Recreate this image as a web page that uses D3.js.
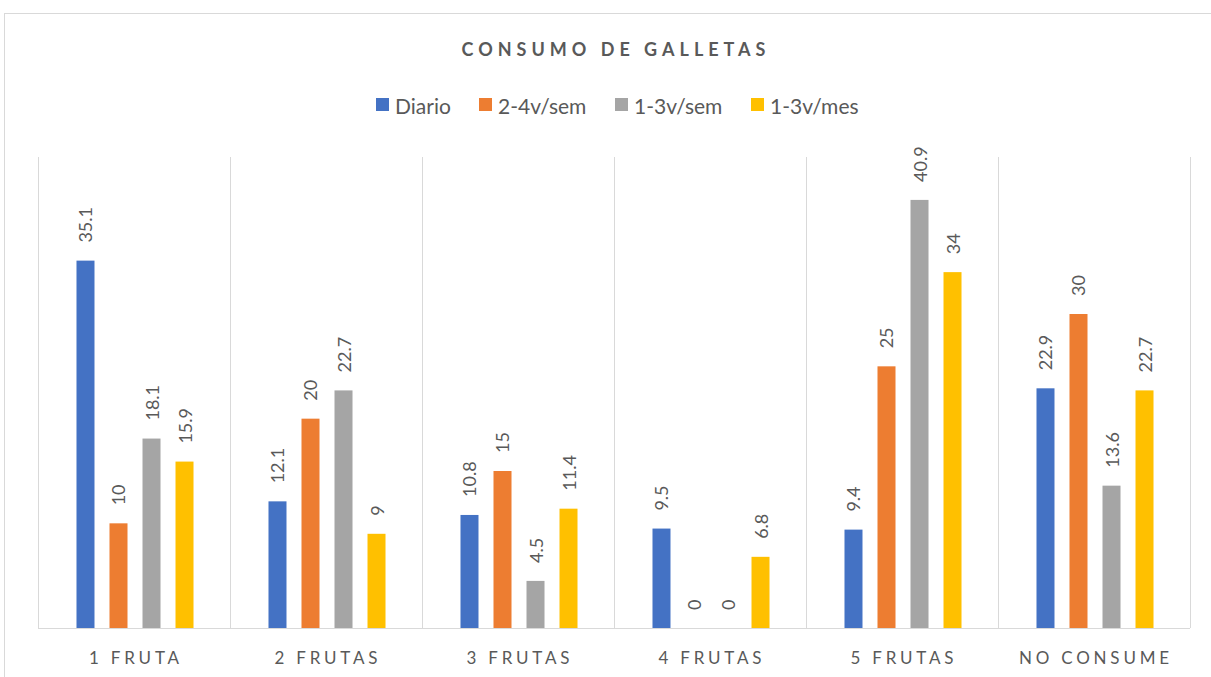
<!DOCTYPE html>
<html>
<head>
<meta charset="utf-8">
<script src="https://cdn.jsdelivr.net/npm/d3@7"></script>
<style>
html,body{margin:0;padding:0;background:#fff;}
svg{display:block;}
text{font-family:Lato,"Open Sans",sans-serif;fill:#595959;}
</style>
</head>
<body>
<svg id="chart" width="1211" height="677"></svg>
<script>
const categories = ["1 FRUTA","2 FRUTAS","3 FRUTAS","4 FRUTAS","5 FRUTAS","NO CONSUME"];
const seriesNames = ["Diario","2-4v/sem","1-3v/sem","1-3v/mes"];
const diario   = [35.1, 12.1, 10.8, 9.5, 9.4, 22.9];
const v24sem   = [10, 20, 15, 0, 25, 30];
const v13sem   = [18.1, 22.7, 4.5, 0, 40.9, 13.6];
const v13mes   = [15.9, 9, 11.4, 6.8, 34, 22.7];
const colors = ["#4472C4","#ED7D31","#A5A5A5","#FFC000"];
const title = "CONSUMO DE GALLETAS";

const seriesValues = [diario, v24sem, v13sem, v13mes];

const svg = d3.select("#chart");
const plot = {left:38, right:1190, top:157, bottom:628};

// frame
svg.append("rect").attr("x",4.5).attr("y",13.5).attr("width",1230).attr("height",700)
  .attr("fill","none").attr("stroke","#d9d9d9").attr("stroke-width",1);

const x0 = d3.scaleBand().domain(categories).range([plot.left, plot.right]).paddingInner(0).paddingOuter(0);
const x1 = d3.scaleBand().domain(seriesNames).range([1, x0.bandwidth() + 1]).paddingInner(0.4545).paddingOuter(1.136);
const y = d3.scaleLinear().domain([0,45]).range([plot.bottom, plot.top]);

// vertical gridlines between categories
const gridX = categories.map(c => x0(c)).concat([plot.right]);
svg.append("g").selectAll("line").data(gridX).join("line")
  .attr("x1", d => Math.round(d)+0.5).attr("x2", d => Math.round(d)+0.5)
  .attr("y1", plot.top).attr("y2", plot.bottom)
  .attr("stroke","#d9d9d9").attr("stroke-width",1);

// bars
const g = svg.append("g");
categories.forEach((cat, ci) => {
  seriesNames.forEach((s, si) => {
    const v = seriesValues[si][ci];
    const bx = x0(cat) + x1(s);
    g.append("rect")
      .attr("x", bx).attr("y", y(v))
      .attr("width", x1.bandwidth()).attr("height", y(0) - y(v))
      .attr("fill", colors[si]);
    const cx = bx + x1.bandwidth()/2;
    const ty = y(v) - 18;
    g.append("text")
      .attr("transform", `translate(${cx},${ty}) rotate(-90)`)
      .attr("text-anchor","start")
      .attr("dominant-baseline","central")
      .style("font-size","18px")
      .text(String(v));
  });
});

// x axis baseline
const xAxis = d3.axisBottom(x0).tickSize(0).tickPadding(0);
const ax = svg.append("g").attr("transform",`translate(0,${plot.bottom})`).call(xAxis);
ax.select(".domain").attr("stroke","#d9d9d9").attr("d",`M${plot.left},0.5H${plot.right}`);
ax.selectAll("text")
  .attr("y", 29).attr("dy", null).attr("dx", "1.9px")
  .attr("dominant-baseline","central")
  .style("font-family","Lato, 'Open Sans', sans-serif")
  .style("font-size","17px")
  .style("letter-spacing","3.8px")
  .attr("fill","#595959");

// title
svg.append("text").attr("x", 616).attr("y", 49)
  .attr("text-anchor","middle").attr("dominant-baseline","central")
  .style("font-size","18px").style("font-weight","bold").style("letter-spacing","5px")
  .text(title);

// legend
const legendX = [376, 479, 615, 751];
const lg = svg.append("g");
seriesNames.forEach((s, i) => {
  lg.append("rect").attr("x", legendX[i]).attr("y", 98).attr("width", 13).attr("height", 13).attr("fill", colors[i]);
  lg.append("text").attr("x", legendX[i] + 19).attr("y", 105)
    .attr("dominant-baseline","central")
    .style("font-size","21px")
    .text(s);
});
</script>
</body>
</html>
